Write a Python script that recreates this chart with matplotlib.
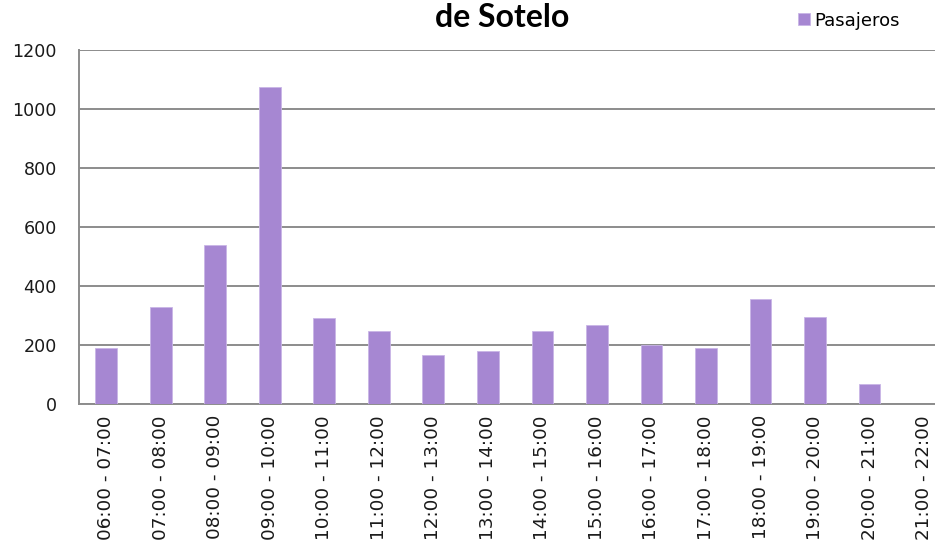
import matplotlib
matplotlib.use("Agg")
import matplotlib.pyplot as plt

categories = ["06:00 - 07:00", "07:00 - 08:00", "08:00 - 09:00", "09:00 - 10:00",
              "10:00 - 11:00", "11:00 - 12:00", "12:00 - 13:00", "13:00 - 14:00",
              "14:00 - 15:00", "15:00 - 16:00", "16:00 - 17:00", "17:00 - 18:00",
              "18:00 - 19:00", "19:00 - 20:00", "20:00 - 21:00", "21:00 - 22:00"]
pasajeros = [189, 330, 540, 1073, 290, 249, 166, 178, 249, 267, 199, 190, 355, 296, 67, 0]
yticks = [0, 200, 400, 600, 800, 1000, 1200]

fig = plt.figure(figsize=(9.35, 5.42), dpi=100)
ax = fig.add_axes([0.0845, 0.2546, 0.9155, 0.6531])

x = list(range(len(categories)))
ax.bar(x, pasajeros, width=0.4, color="#A687D2", edgecolor="#C9B6E6", linewidth=0.6,
       label="Pasajeros", zorder=3)

ax.set_xlim(-0.5, 15.2)
ax.set_ylim(0, 1200)
ax.set_yticks(yticks)
ax.set_yticklabels([str(v) for v in yticks], fontsize=12.6, family="DejaVu Sans")
ax.set_xticks(x)
ax.set_xticklabels(categories, rotation=90, fontsize=13.2, family="DejaVu Sans",
                   ha="center", va="top")
ax.tick_params(axis="both", length=0, labelcolor="#1A1A1A")
ax.tick_params(axis="y", pad=16)
ax.tick_params(axis="x", pad=8)

ax.grid(axis="y", color="#8C8C8C", linewidth=1.4, zorder=0)
for s in ["top", "right"]:
    ax.spines[s].set_visible(False)
for s in ["left", "bottom"]:
    ax.spines[s].set_color("#8C8C8C")
    ax.spines[s].set_linewidth(1.4)

fig.text(0.5375, 0.967, "de Sotelo", ha="center", va="center", fontsize=23,
         fontweight="bold", family="Lato")

leg = fig.legend(loc="center left", bbox_to_anchor=(0.846, 0.962), frameon=False,
                 prop={"family": "DejaVu Sans", "size": 13}, handlelength=0.65,
                 handleheight=0.65, handletextpad=0.25, borderaxespad=0)

fig.savefig("out.png", dpi=100)
